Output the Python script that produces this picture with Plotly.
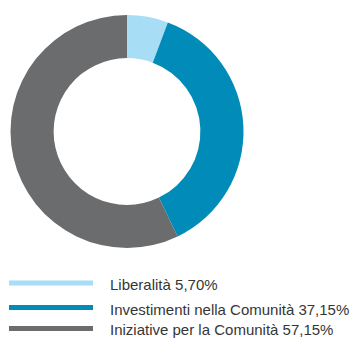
import plotly.graph_objects as go

# Ripartizione degli interventi nella comunità
labels = ["Liberalità", "Investimenti nella Comunità", "Iniziative per la Comunità"]
values = [5.70, 37.15, 57.15]
colors = ["#a7ddf5", "#008bb8", "#6b6c6e"]

W, H = 358, 338

fig = go.Figure(
    go.Pie(
        labels=labels,
        values=values,
        hole=0.63,
        sort=False,
        direction="clockwise",
        rotation=0,
        marker=dict(colors=colors, line=dict(width=0)),
        textinfo="none",
        hoverinfo="label+percent",
        showlegend=False,
        domain=dict(x=[10 / W, 244 / W], y=[90 / H, 323 / H]),
    )
)

# Legenda: linea colorata + etichetta con percentuale
line_y = [283, 307.5, 328.5]
text_y = [284, 309.5, 329.5]
shapes, annotations = [], []
for lab, val, col, ly, ty in zip(labels, values, colors, line_y, text_y):
    shapes.append(dict(type="line", xref="paper", yref="paper",
                       x0=9 / W, x1=93 / W, y0=1 - ly / H, y1=1 - ly / H,
                       line=dict(color=col, width=5)))
    txt = f"{lab} {val:.2f}%".replace(".", ",")
    annotations.append(dict(xref="paper", yref="paper", x=108 / W, y=1 - ty / H,
                            xanchor="left", yanchor="middle", showarrow=False,
                            text=txt, font=dict(size=15, color="#363636",
                                                family="Liberation Sans, Arial, sans-serif")))

fig.update_layout(
    width=W, height=H,
    margin=dict(l=0, r=0, t=0, b=0),
    paper_bgcolor="white",
    plot_bgcolor="white",
    shapes=shapes,
    annotations=annotations,
)

fig.write_html("out.html")
